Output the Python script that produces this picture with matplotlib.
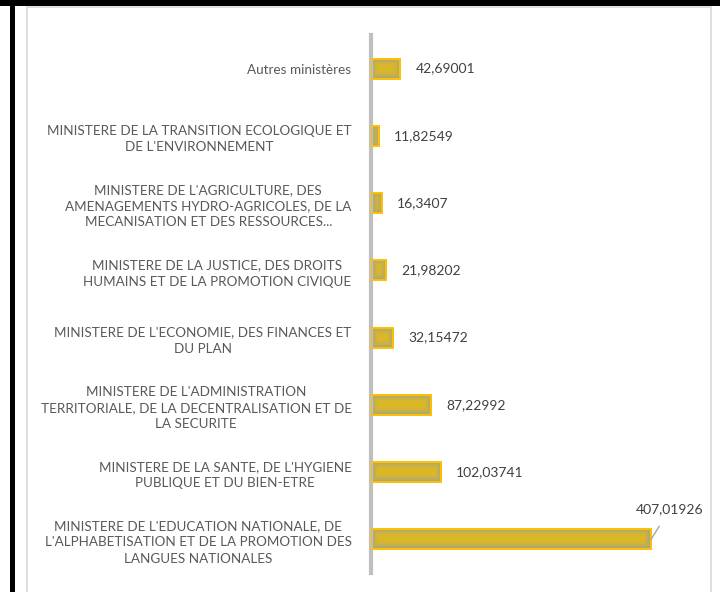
import numpy as np
import matplotlib
matplotlib.use("Agg")
import matplotlib.pyplot as plt
from matplotlib.patches import Rectangle

categories = [
    "MINISTERE DE L'EDUCATION NATIONALE, DE\nL'ALPHABETISATION ET DE LA PROMOTION DES\nLANGUES NATIONALES",
    "MINISTERE DE LA SANTE, DE L'HYGIENE\nPUBLIQUE ET DU BIEN-ETRE",
    "MINISTERE DE L'ADMINISTRATION\nTERRITORIALE, DE LA DECENTRALISATION ET DE\nLA SECURITE",
    "MINISTERE DE L'ECONOMIE, DES FINANCES ET\nDU PLAN",
    "MINISTERE DE LA JUSTICE, DES DROITS\nHUMAINS ET DE LA PROMOTION CIVIQUE",
    "MINISTERE DE L'AGRICULTURE, DES\nAMENAGEMENTS HYDRO-AGRICOLES, DE LA\nMECANISATION ET DES RESSOURCES...",
    "MINISTERE DE LA TRANSITION ECOLOGIQUE ET\nDE L'ENVIRONNEMENT",
    "Autres ministères",
]
values = [407.01926, 102.03741, 87.22992, 32.15472, 21.98202, 16.3407, 11.82549, 42.69001]
value_labels = ["407,01926", "102,03741", "87,22992", "32,15472", "21,98202", "16,3407", "11,82549", "42,69001"]

plt.rcParams['font.family'] = ['Lato', 'DejaVu Sans']

fig = plt.figure(figsize=(7.2, 5.92), dpi=100)
W, H = 720, 592

# borders
fig.add_artist(Rectangle((0, 1 - 6 / H), 1, 6 / H, transform=fig.transFigure,
                         facecolor='black', edgecolor='none', zorder=10))
fig.add_artist(Rectangle((10 / W, 0), 5 / W, 1, transform=fig.transFigure,
                         facecolor='black', edgecolor='none', zorder=10))
fig.add_artist(Rectangle((27 / W, -0.05), (711 - 27) / W, 1.05 - 7 / H, transform=fig.transFigure,
                         fill=False, edgecolor='#D9D9D9', linewidth=1.2, zorder=1))

left, right = 371, 700
top, bottom = 35, 573
ax = fig.add_axes([left / W, 1 - bottom / H, (right - left) / W, (bottom - top) / H])
scale = (651 - 371) / 407.01926
for s in ['top', 'right', 'bottom']:
    ax.spines[s].set_visible(False)
ax.spines['left'].set_color('#BFBFBF')
ax.spines['left'].set_linewidth(3)
ax.set_xticks([])
ax.set_yticks(range(len(categories)))
ax.set_yticklabels(categories, fontsize=9.7, color='#595959', multialignment='center', linespacing=1.42)
ax.tick_params(axis='y', length=0, pad=14)

bh = 0.3
ny, nx = 40, 400
gold = np.array([0.86, 0.72, 0.15])
gray = np.array([0.62, 0.64, 0.55])
bars = ax.barh(range(len(values)), values, height=bh, color='none', edgecolor='#FFC000', linewidth=1.4, zorder=3)
for i, (b, v) in enumerate(zip(bars, values)):
    wpx = v * scale
    hpx = bh * (bottom - top) / len(categories)
    xs = np.linspace(0, wpx, nx)
    ys = np.linspace(0, hpx, ny)
    X, Y = np.meshgrid(xs, ys)
    d = np.minimum(np.minimum(X, wpx - X), np.minimum(Y, hpx - Y))
    t = np.clip(d / 7.0, 0, 1) ** 0.8
    img = gray[None, None, :] * (1 - t[..., None]) + gold[None, None, :] * t[..., None]
    im = ax.imshow(img, extent=(0, v, i - bh / 2, i + bh / 2), aspect='auto', zorder=2, interpolation='bilinear')
    im.set_clip_path(b)
    if i == 0:
        ax.annotate(value_labels[i], xy=(v, i), xytext=(v + 19 / scale, i + 0.45),
                    fontsize=10, color='#404040', ha='center', va='center',
                    arrowprops=dict(arrowstyle='-', color='#A6A6A6', lw=1, shrinkA=7, shrinkB=0))
    else:
        ax.text(v + 15 / scale, i, value_labels[i], fontsize=10, color='#404040', va='center', ha='left')

ax.set_xlim(0, (right - left) / scale)
ax.set_ylim(-0.5, len(categories) - 0.5)
fig.savefig("out.png", dpi=100)
